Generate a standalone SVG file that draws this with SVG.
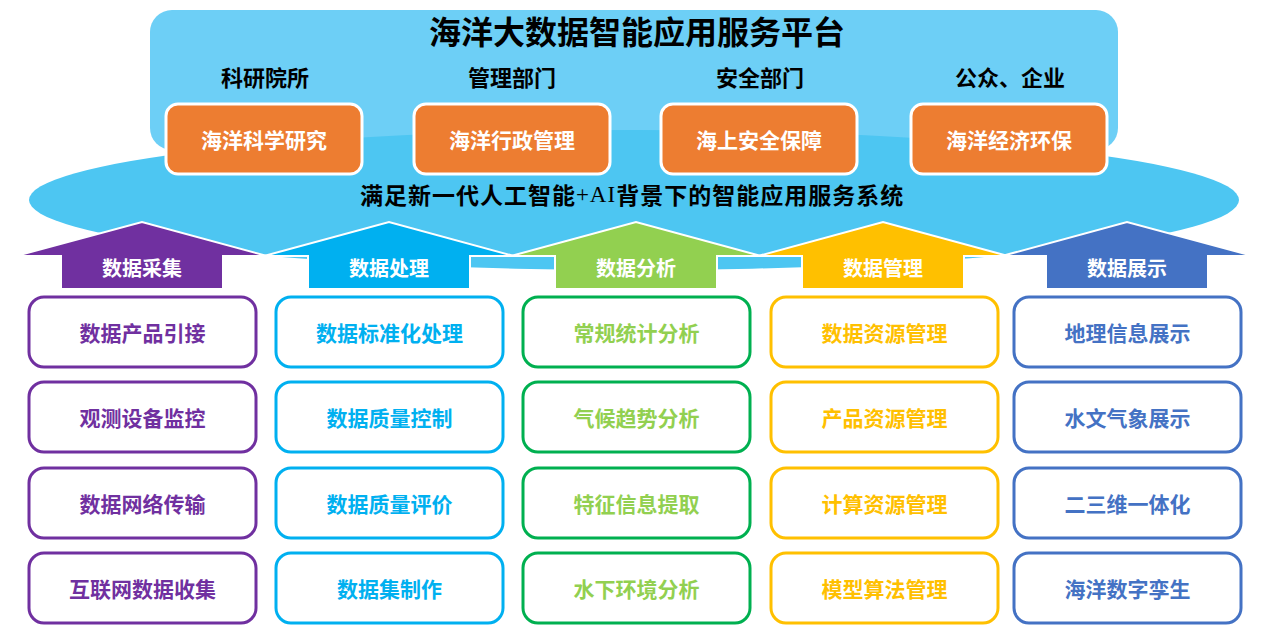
<svg xmlns="http://www.w3.org/2000/svg" width="1269" height="625" viewBox="0 0 1269 625">
<style>
text{font-family:"Noto Sans CJK SC","Noto Sans",sans-serif;font-weight:bold;text-anchor:middle;dominant-baseline:central}
.title{font-size:32px;fill:#000}
.role{font-size:22px;fill:#000}
.ob{fill:#ED7D31;stroke:#fff;stroke-width:3}
.ot{font-size:21px;fill:#fff}
.arr{stroke:#fff;stroke-width:2;stroke-linejoin:miter}
.at{font-size:20px;fill:#fff}
.bx{fill:#fff;stroke-width:3}
.bt{font-size:21px}
.c1{stroke:#7030A0}.t1{fill:#7030A0}
.c2{stroke:#00B0F0}.t2{fill:#00B0F0}
.c3{stroke:#00B050}.t3{fill:#92D050}
.c4{stroke:#FFC000}.t4{fill:#FFC000}
.c5{stroke:#4472C4}.t5{fill:#4472C4}
</style>
<rect width="1269" height="625" fill="#fff"/>
<g id="platform">
<rect x="150" y="10" width="968" height="140" rx="22" fill="#6DCFF6"/>
<ellipse cx="634" cy="200" rx="605" ry="70" fill="#4DC6F2"/>
<text class="title" x="637" y="30">海洋大数据智能应用服务平台</text>
<text class="role" x="265" y="76">科研院所</text>
<text class="role" x="512" y="76">管理部门</text>
<text class="role" x="760" y="76">安全部门</text>
<text class="role" x="1010" y="76">公众、企业</text>
<text x="632" y="194" style="font-size:23px;fill:#000;letter-spacing:1px">满足新一代人工智能<tspan style="font-family:'Liberation Serif',serif;font-weight:normal">+AI</tspan>背景下的智能应用服务系统</text>
</g>
<g id="app-research"><rect class="ob" x="166" y="104" width="196" height="70" rx="12"/><text class="ot" x="264" y="139">海洋科学研究</text></g>
<g id="app-admin"><rect class="ob" x="414" y="104" width="196" height="70" rx="12"/><text class="ot" x="512" y="139">海洋行政管理</text></g>
<g id="app-safety"><rect class="ob" x="661" y="104" width="196" height="70" rx="12"/><text class="ot" x="759" y="139">海上安全保障</text></g>
<g id="app-economy"><rect class="ob" x="911" y="104" width="196" height="70" rx="12"/><text class="ot" x="1009" y="139">海洋经济环保</text></g>
<g id="arrow-collect"><polygon class="arr" fill="#7030A0" points="61,289 61,256 16,256 142,222 267,256 223,256 223,289"/><text class="at" x="142" y="267">数据采集</text></g>
<g id="arrow-process"><polygon class="arr" fill="#00B0F0" points="308,289 308,256 264,256 389,222 514,256 470,256 470,289"/><text class="at" x="389" y="267">数据处理</text></g>
<g id="arrow-analyze"><polygon class="arr" fill="#92D050" points="555,289 555,256 511,256 636,222 761,256 717,256 717,289"/><text class="at" x="636" y="267">数据分析</text></g>
<g id="arrow-manage"><polygon class="arr" fill="#FFC000" points="802,289 802,256 758,256 883,222 1008,256 964,256 964,289"/><text class="at" x="883" y="267">数据管理</text></g>
<g id="arrow-display"><polygon class="arr" fill="#4472C4" points="1046,289 1046,256 1002,256 1127,222 1253,256 1208,256 1208,289"/><text class="at" x="1127" y="267">数据展示</text></g>
<g id="col-collect">
<g id="b11"><rect class="bx c1" x="29" y="297" width="227" height="70" rx="15"/><text class="bt t1" x="142.5" y="332">数据产品引接</text></g>
<g id="b12"><rect class="bx c1" x="29" y="382" width="227" height="70" rx="15"/><text class="bt t1" x="142.5" y="417">观测设备监控</text></g>
<g id="b13"><rect class="bx c1" x="29" y="468" width="227" height="70" rx="15"/><text class="bt t1" x="142.5" y="503">数据网络传输</text></g>
<g id="b14"><rect class="bx c1" x="29" y="553" width="227" height="70" rx="15"/><text class="bt t1" x="142.5" y="588">互联网数据收集</text></g>
</g>
<g id="col-process">
<g id="b21"><rect class="bx c2" x="276" y="297" width="227" height="70" rx="15"/><text class="bt t2" x="389.5" y="332">数据标准化处理</text></g>
<g id="b22"><rect class="bx c2" x="276" y="382" width="227" height="70" rx="15"/><text class="bt t2" x="389.5" y="417">数据质量控制</text></g>
<g id="b23"><rect class="bx c2" x="276" y="468" width="227" height="70" rx="15"/><text class="bt t2" x="389.5" y="503">数据质量评价</text></g>
<g id="b24"><rect class="bx c2" x="276" y="553" width="227" height="70" rx="15"/><text class="bt t2" x="389.5" y="588">数据集制作</text></g>
</g>
<g id="col-analyze">
<g id="b31"><rect class="bx c3" x="523" y="297" width="227" height="70" rx="15"/><text class="bt t3" x="636.5" y="332">常规统计分析</text></g>
<g id="b32"><rect class="bx c3" x="523" y="382" width="227" height="70" rx="15"/><text class="bt t3" x="636.5" y="417">气候趋势分析</text></g>
<g id="b33"><rect class="bx c3" x="523" y="468" width="227" height="70" rx="15"/><text class="bt t3" x="636.5" y="503">特征信息提取</text></g>
<g id="b34"><rect class="bx c3" x="523" y="553" width="227" height="70" rx="15"/><text class="bt t3" x="636.5" y="588">水下环境分析</text></g>
</g>
<g id="col-manage">
<g id="b41"><rect class="bx c4" x="771" y="297" width="227" height="70" rx="15"/><text class="bt t4" x="884.5" y="332">数据资源管理</text></g>
<g id="b42"><rect class="bx c4" x="771" y="382" width="227" height="70" rx="15"/><text class="bt t4" x="884.5" y="417">产品资源管理</text></g>
<g id="b43"><rect class="bx c4" x="771" y="468" width="227" height="70" rx="15"/><text class="bt t4" x="884.5" y="503">计算资源管理</text></g>
<g id="b44"><rect class="bx c4" x="771" y="553" width="227" height="70" rx="15"/><text class="bt t4" x="884.5" y="588">模型算法管理</text></g>
</g>
<g id="col-display">
<g id="b51"><rect class="bx c5" x="1014" y="297" width="227" height="70" rx="15"/><text class="bt t5" x="1127.5" y="332">地理信息展示</text></g>
<g id="b52"><rect class="bx c5" x="1014" y="382" width="227" height="70" rx="15"/><text class="bt t5" x="1127.5" y="417">水文气象展示</text></g>
<g id="b53"><rect class="bx c5" x="1014" y="468" width="227" height="70" rx="15"/><text class="bt t5" x="1127.5" y="503">二三维一体化</text></g>
<g id="b54"><rect class="bx c5" x="1014" y="553" width="227" height="70" rx="15"/><text class="bt t5" x="1127.5" y="588">海洋数字孪生</text></g>
</g>
<g id="connectors"/>
</svg>
